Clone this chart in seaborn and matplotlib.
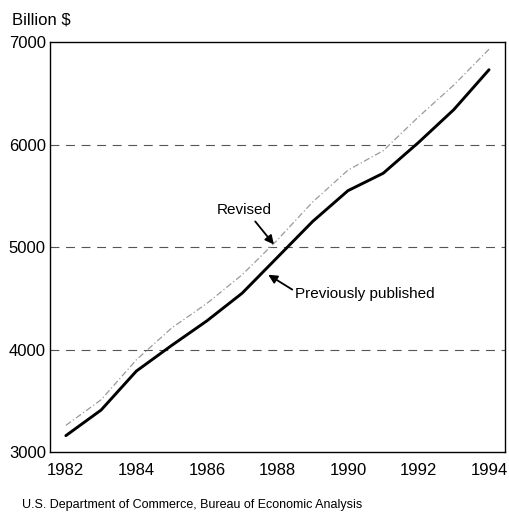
import matplotlib
matplotlib.use("Agg")
import matplotlib.pyplot as plt
import seaborn as sns
import pandas as pd

years = [1982, 1983, 1984, 1985, 1986, 1987, 1988, 1989, 1990, 1991, 1992, 1993, 1994]
previously_published = [3160, 3410, 3790, 4040, 4280, 4550, 4900, 5250, 5550, 5720, 6020, 6340, 6730]
revised = [3260, 3510, 3900, 4210, 4450, 4730, 5070, 5440, 5750, 5940, 6270, 6580, 6930]
y_ticks = [3000, 4000, 5000, 6000, 7000]
x_ticks = [1982, 1984, 1986, 1988, 1990, 1992, 1994]

sns.set_style("white")
plt.rcParams['font.family'] = ['Liberation Sans', 'DejaVu Sans']
plt.rcParams['text.color'] = 'black'
plt.rcParams['xtick.color'] = 'black'
plt.rcParams['ytick.color'] = 'black'

df = pd.DataFrame({"year": years, "prev": previously_published, "rev": revised})

fig = plt.figure(figsize=(5.10, 5.19), dpi=100)
ax = fig.add_axes([0.098, 0.129, 0.892, 0.790])

for yv in [4000, 5000, 6000]:
    ax.axhline(yv, color="#555555", lw=0.8, ls=(0, (8, 6)), zorder=1)

sns.lineplot(data=df, x="year", y="rev", ax=ax, color="#9a9a9a", lw=0.9,
             linestyle=(0, (5, 2, 1, 2)), zorder=2)
sns.lineplot(data=df, x="year", y="prev", ax=ax, color="black", lw=2.1, zorder=3)

ax.set_xlim(1981.55, 1994.45)
ax.set_ylim(3000, 7000)
ax.set_xticks(x_ticks)
ax.set_yticks(y_ticks)
ax.set_xticklabels([str(x) for x in x_ticks], fontsize=12)
ax.set_yticklabels([str(y) for y in y_ticks], fontsize=12)
ax.tick_params(axis="both", length=0, pad=3, labelcolor="black")
ax.tick_params(axis="x", pad=8)
ax.set_xlabel("")
ax.set_ylabel("")
for s in ax.spines.values():
    s.set_color("black")
    s.set_linewidth(1.0)

ax.text(1987.05, 5360, "Revised", fontsize=11, ha="center", va="center", color="black")
ax.annotate("", xy=(1987.9, 5025), xytext=(1987.37, 5250),
            arrowprops=dict(arrowstyle="-|>", color="black", lw=1.3, mutation_scale=13,
                            shrinkA=0, shrinkB=0))
ax.text(1988.5, 4540, "Previously published", fontsize=11, ha="left", va="center", color="black")
ax.annotate("", xy=(1987.74, 4730), xytext=(1988.42, 4585),
            arrowprops=dict(arrowstyle="-|>", color="black", lw=1.3, mutation_scale=13,
                            shrinkA=0, shrinkB=0))

fig.text(12/510, 1-20/519, "Billion $", fontsize=12, ha="left", va="center", color="black")
fig.text(22/510, 1-505/519, "U.S. Department of Commerce, Bureau of Economic Analysis",
         fontsize=9, ha="left", va="center", color="black",
         family=['Liberation Sans Narrow', 'Liberation Sans', 'DejaVu Sans'])

fig.savefig("out.png", dpi=100)
